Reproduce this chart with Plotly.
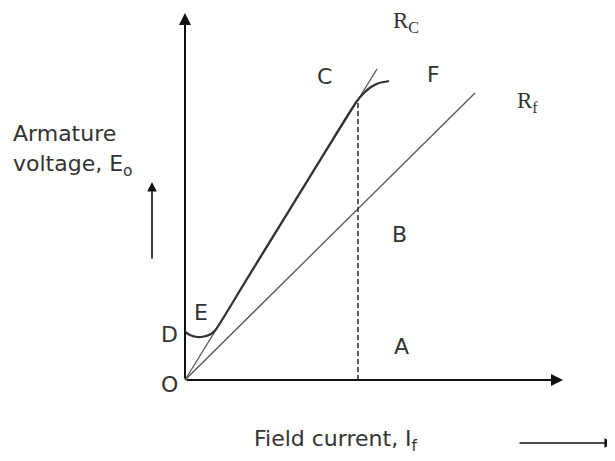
import plotly.graph_objects as go

# Data (units: arbitrary field current / voltage)
rf_x = [0, 290]
rf_y = [0, 287]
rc_x = [0, 192]
rc_y = [0, 311]
occ_x = [0, 5, 12, 19, 25, 30, 60, 100, 140, 172, 179, 186, 194, 204]
occ_y = [48, 45, 43, 43.5, 45.5, 49.5, 98, 163, 228, 279, 287, 293, 297, 299]
cut_x = [173, 173]
cut_y = [0, 278]

labels = ["O", "D", "E", "A", "B", "C", "F"]
label_x = [-16, -16, 16, 216, 214, 139, 248]
label_y = [-4, 46, 68, 34, 146, 304, 306]

fig = go.Figure()
fig.add_trace(go.Scatter(x=rf_x, y=rf_y, mode="lines", line=dict(color="#555", width=1.3)))
fig.add_trace(go.Scatter(x=rc_x, y=rc_y, mode="lines", line=dict(color="#555", width=1.3)))
fig.add_trace(go.Scatter(x=occ_x, y=occ_y, mode="lines",
                         line=dict(color="#333", width=2.2, shape="spline", smoothing=0.6)))
fig.add_trace(go.Scatter(x=cut_x, y=cut_y, mode="lines", line=dict(color="#333", width=1.6, dash="5px,3px")))

def arrow(x0, y0, x1, y1, w=2):
    fig.add_annotation(x=x1, y=y1, ax=x0, ay=y0, xref="x", yref="y", axref="x", ayref="y",
                       showarrow=True, arrowhead=2, arrowsize=1.2, arrowwidth=w, arrowcolor="#111", text="")

arrow(0, 0, 0, 367)
arrow(0, 0, 378, 0)
arrow(-33, 120, -33, 198, 1.6)
arrow(333, -63, 429, -63, 1.6)

font = dict(family="DejaVu Sans", size=22, color="#333")
for t, x, y in zip(labels, label_x, label_y):
    fig.add_annotation(x=x, y=y, text=t, showarrow=False, font=font)

serif = dict(family="Liberation Serif", size=23, color="#333")
fig.add_annotation(x=221, y=358, text="R<sub>C</sub>", showarrow=False, font=serif)
fig.add_annotation(x=342, y=278, text="R<sub>f</sub>", showarrow=False, font=serif)

fig.add_annotation(x=-174, y=247, text="Armature", showarrow=False, xanchor="left", font=font)
fig.add_annotation(x=-174, y=215, text="voltage, E<sub>o</sub>", showarrow=False, xanchor="left", font=font)
fig.add_annotation(x=151, y=-60, text="Field current, I<sub>f</sub>", showarrow=False, font=font)

# page body has an 8px default margin; size figure to fill the rest at 1 unit per pixel
fig.update_layout(
    width=607, height=453, margin=dict(l=0, r=0, t=0, b=0),
    paper_bgcolor="white", plot_bgcolor="white", showlegend=False,
    xaxis=dict(range=[-177, 430], visible=False, fixedrange=True),
    yaxis=dict(range=[-81, 372], visible=False, fixedrange=True),
)
fig.write_html("out.html")
